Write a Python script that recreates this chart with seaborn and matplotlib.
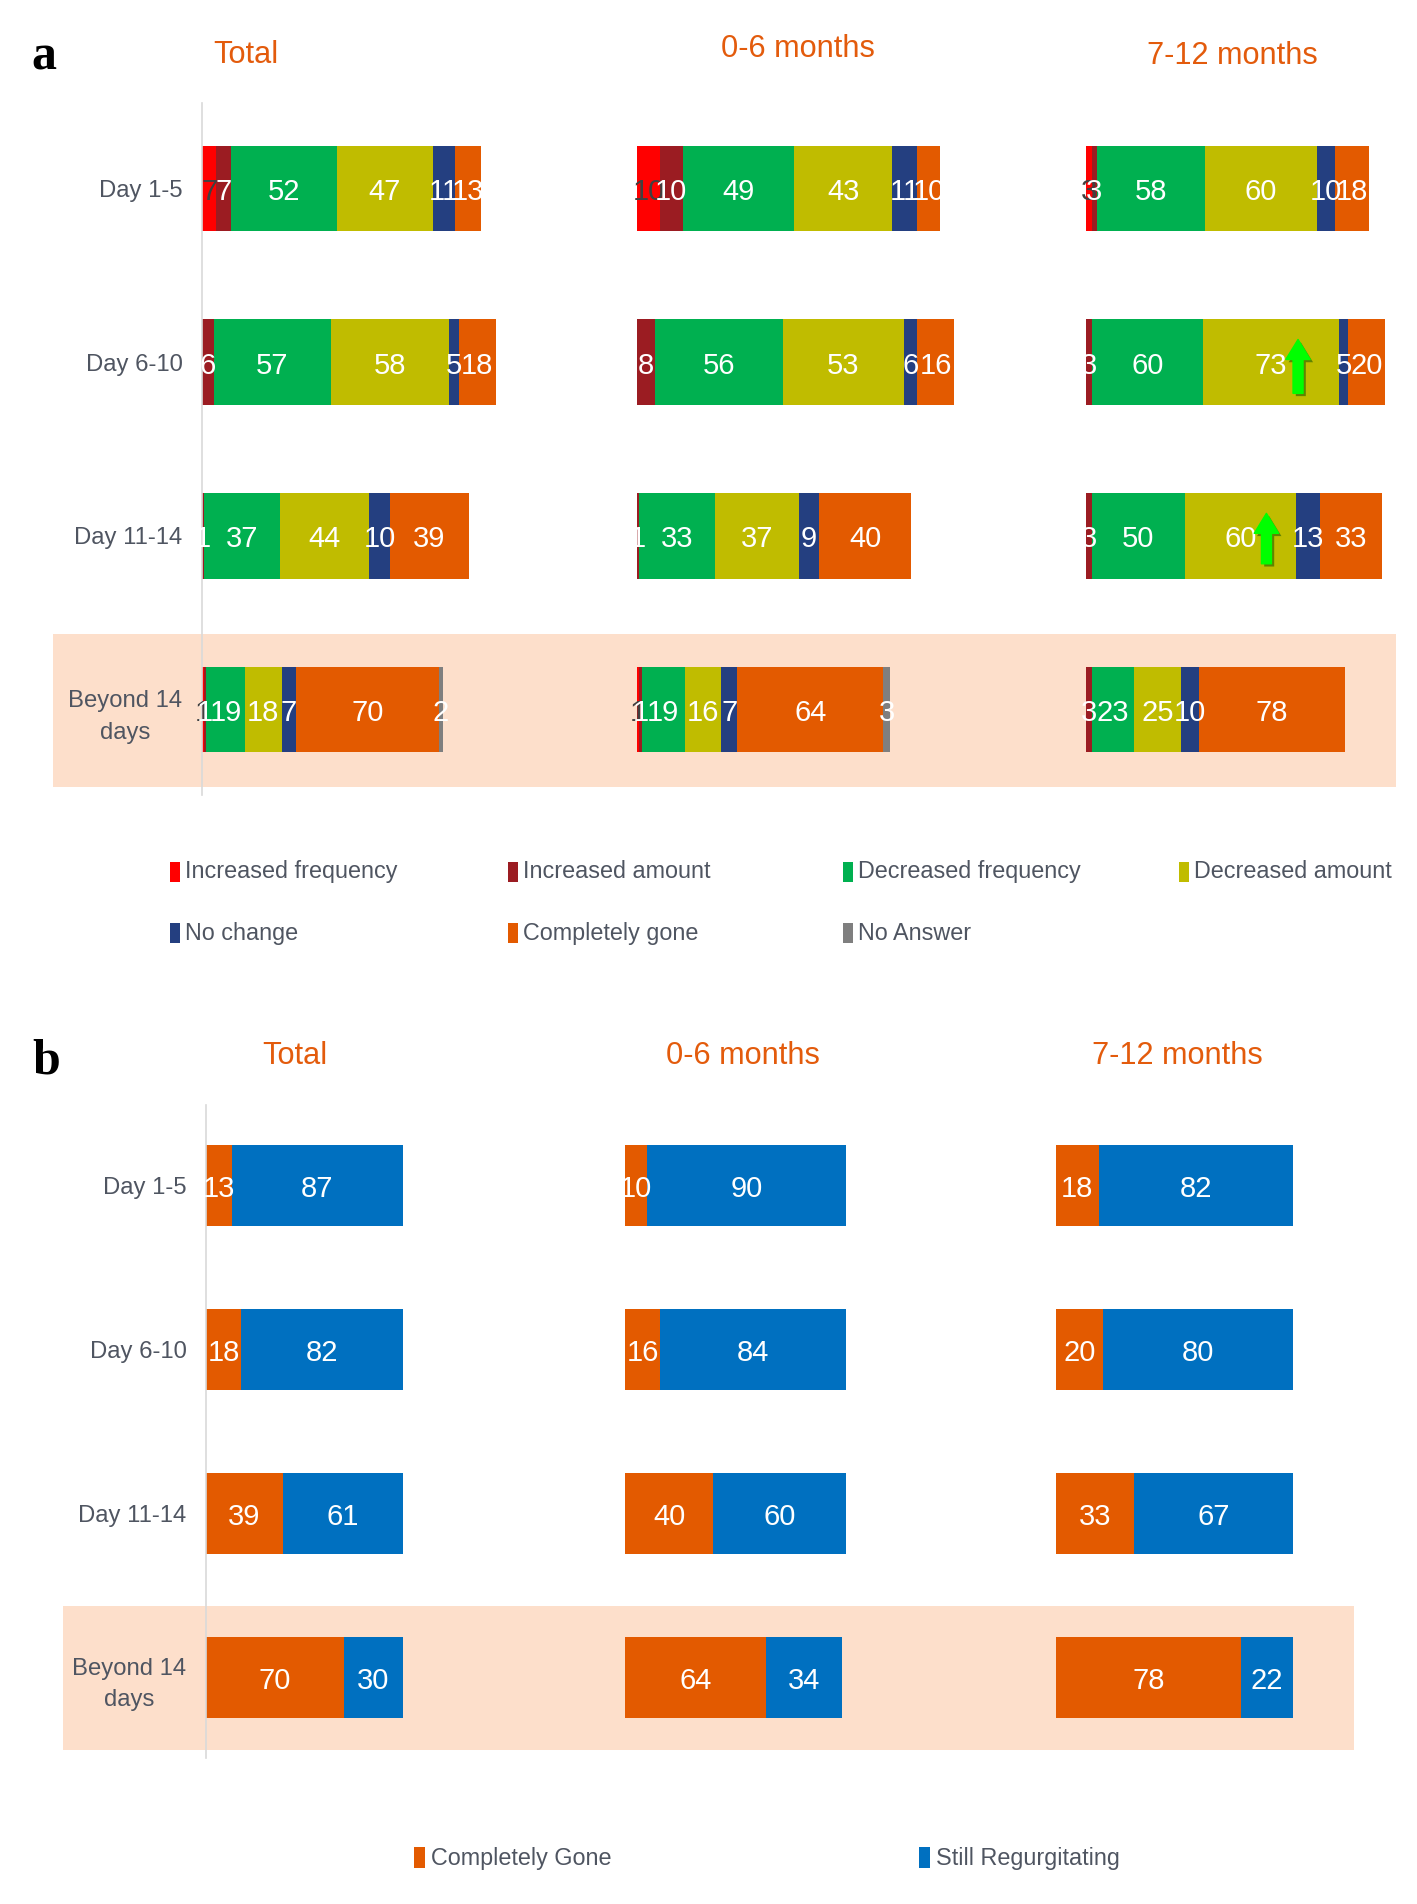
import matplotlib
matplotlib.use('Agg')
import matplotlib.pyplot as plt
from matplotlib import font_manager
from matplotlib.patches import Rectangle
import matplotlib.patheffects as pe
import numpy as np
import pandas as pd
import seaborn as sns

# ---------------- data ----------------
rows = ['Day 1-5', 'Day 6-10', 'Day 11-14', 'Beyond 14\ndays']
groups = ['Total', '0-6 months', '7-12 months']

series_a = ['Increased frequency', 'Increased amount', 'Decreased frequency',
            'Decreased amount', 'No change', 'Completely gone', 'No Answer']
# columns follow series_a order
total_a = [[7, 7, 52, 47, 11, 13, 0],
           [0, 6, 57, 58, 5, 18, 0],
           [0, 1, 37, 44, 10, 39, 0],
           [1, 1, 19, 18, 7, 70, 2]]
m06_a = [[10, 10, 49, 43, 11, 10, 0],
         [0, 8, 56, 53, 6, 16, 0],
         [0, 1, 33, 37, 9, 40, 0],
         [1, 1, 19, 16, 7, 64, 3]]
m712_a = [[3, 3, 58, 60, 10, 18, 0],
          [0, 3, 60, 73, 5, 20, 0],
          [0, 3, 50, 60, 13, 33, 0],
          [0, 3, 23, 25, 10, 78, 0]]

series_b = ['Completely Gone', 'Still Regurgitating']
total_b = [[13, 87], [18, 82], [39, 61], [70, 30]]
m06_b = [[10, 90], [16, 84], [40, 60], [64, 34]]
m712_b = [[18, 82], [20, 80], [33, 67], [78, 22]]

# ---------------- style ----------------
names = {f.name for f in font_manager.fontManager.ttflist}
if 'Liberation Sans Narrow' in names:
    FONT, SC = 'Liberation Sans Narrow', 1.0
else:
    FONT, SC = 'Liberation Sans', 0.82
sns.set_theme(style='white')
plt.rcParams['font.family'] = [FONT, 'DejaVu Sans']

colors_a = ['#FF0000', '#9B1C22', '#00B050', '#C0BC00', '#243F80', '#E35A00', '#7F7F7F']
label_colors_a = ['#404040', 'white', 'white', 'white', 'white', 'white', 'white']
colors_b = ['#E35A00', '#0070C0']
label_colors_b = ['white', 'white']
TITLE_C = '#E35B0C'
TEXT_C = '#4F5561'
BAND_C = '#FDDFCB'

FS_TITLE = 27 * SC
FS_ROW = 21 * SC
FS_LEG = 20.5 * SC
FS_BAR = 21 if SC < 1 else 23

W, H = 1417, 1904
fig = plt.figure(figsize=(W / 100, H / 100), dpi=100)
fig.patch.set_facecolor('white')


def add_ax(left, top, width, height):
    ax = fig.add_axes([left / W, 1 - (top + height) / H, width / W, height / H])
    ax.set_facecolor('none')
    return ax


def band(x0, y0, x1, y1):
    fig.patches.append(Rectangle((x0 / W, 1 - y1 / H), (x1 - x0) / W, (y1 - y0) / H,
                                 transform=fig.transFigure, facecolor=BAND_C,
                                 edgecolor='none', zorder=-5))


def stacked(ax, values, colors, lcolors, xmax, first):
    vals = np.array(values, dtype=float)
    cum = vals.cumsum(axis=1)
    nseg = vals.shape[1]
    for k in range(nseg - 1, -1, -1):
        df = pd.DataFrame({'row': rows, 'end': cum[:, k]})
        sns.barplot(data=df, x='end', y='row', order=rows, orient='h',
                    color=colors[k], saturation=1, width=0.49, ax=ax,
                    edgecolor='none', linewidth=0, errorbar=None)
    for i in range(len(rows)):
        for k in range(nseg):
            v = vals[i, k]
            if v > 0:
                ax.text(cum[i, k] - v / 2, i + 0.02, f'{v:g}', ha='center', va='center',
                        color=lcolors[k], fontsize=FS_BAR)
    ax.set_xlim(0, xmax)
    ax.set_ylim(3.49, -0.49)
    ax.set_xlabel('')
    ax.set_ylabel('')
    ax.set_xticks([])
    for s in ['top', 'right', 'bottom']:
        ax.spines[s].set_visible(False)
    if first:
        ax.spines['left'].set_visible(True)
        ax.spines['left'].set_color('#D9D9D9')
        ax.spines['left'].set_linewidth(1.2)
        ax.tick_params(axis='y', length=0, pad=14, labelsize=FS_ROW, labelcolor=TEXT_C)
        for t in ax.get_yticklabels():
            t.set_multialignment('center')
            t.set_linespacing(1.55)
    else:
        ax.spines['left'].set_visible(False)
        ax.set_yticks([])


def arrow(ax, x, y0, y1):
    ax.annotate('', xy=(x, y1), xytext=(x, y0),
                arrowprops=dict(arrowstyle='simple,head_length=0.9,head_width=1.1,tail_width=0.45',
                                mutation_scale=16, color='#00FF00', shrinkA=0, shrinkB=0,
                                path_effects=[pe.SimplePatchShadow(offset=(2, -2), alpha=0.5),
                                              pe.Normal()]),
                zorder=5)


# ---------------- panel a ----------------
band(53, 634, 1396, 787)
fig.text(44 / W, 1 - 57 / H, 'a', fontsize=36, fontweight='bold',
         family='Liberation Serif', ha='center', va='center', color='black')
for name, xc, yc in [(groups[0], 246, 55), (groups[1], 798, 49), (groups[2], 1232, 56)]:
    fig.text(xc / W, 1 - yc / H, name, fontsize=FS_TITLE, color=TITLE_C, ha='center', va='center')

ax_a1 = add_ax(202, 103, 340, 692)
stacked(ax_a1, total_a, colors_a, label_colors_a, 340 / 2.04, True)
ax_a2 = add_ax(637, 103, 340, 692)
stacked(ax_a2, m06_a, colors_a, label_colors_a, 340 / 2.28, False)
ax_a3 = add_ax(1086, 103, 310, 692)
stacked(ax_a3, m712_a, colors_a, label_colors_a, 310 / 1.86, False)
arrow(ax_a3, 114, 0.18 + 1, -0.13 + 1)
arrow(ax_a3, 97, 0.16 + 2, -0.13 + 2)

# legend a (manual grid)
leg_a_pos = [(170, 872), (508, 872), (843, 872), (1179, 872),
             (170, 933), (508, 933), (843, 933)]
for (px, py), lab, col in zip(leg_a_pos, series_a, colors_a):
    fig.patches.append(Rectangle((px / W, 1 - (py + 10) / H), 10 / W, 20 / H,
                                 transform=fig.transFigure, facecolor=col, edgecolor='none'))
    fig.text((px + 15) / W, 1 - py / H, lab, fontsize=FS_LEG, color=TEXT_C,
             ha='left', va='center')

# ---------------- panel b ----------------
band(63, 1606, 1354, 1750)
fig.text(46 / W, 1 - 1062 / H, 'b', fontsize=36, fontweight='bold',
         family='Liberation Serif', ha='center', va='center', color='black')
for name, xc in [(groups[0], 295), (groups[1], 743), (groups[2], 1177)]:
    fig.text(xc / W, 1 - 1056 / H, name, fontsize=FS_TITLE, color=TITLE_C, ha='center', va='center')

ax_b1 = add_ax(206, 1105, 300, 653)
stacked(ax_b1, total_b, colors_b, label_colors_b, 300 / 1.97, True)
ax_b2 = add_ax(625, 1105, 300, 653)
stacked(ax_b2, m06_b, colors_b, label_colors_b, 300 / 2.21, False)
ax_b3 = add_ax(1056, 1105, 300, 653)
stacked(ax_b3, m712_b, colors_b, label_colors_b, 300 / 2.37, False)

for (px, py), lab, col in zip([(414, 1858), (919, 1858)], series_b, colors_b):
    fig.patches.append(Rectangle((px / W, 1 - (py + 10) / H), 11 / W, 21 / H,
                                 transform=fig.transFigure, facecolor=col, edgecolor='none'))
    fig.text((px + 17) / W, 1 - py / H, lab, fontsize=FS_LEG, color=TEXT_C,
             ha='left', va='center')

fig.savefig('out.png', dpi=100, facecolor='white')
